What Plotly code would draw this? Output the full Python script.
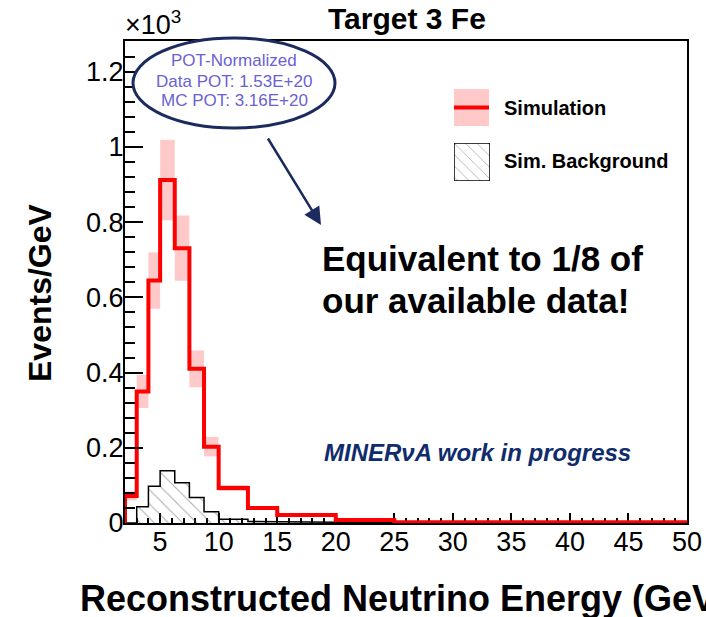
import plotly.graph_objects as go

# ---------------- data (Events/GeV, in units of 10^3) ----------------
bin_edges = [2, 3, 4, 5, 6.25, 7.5, 8.75, 10, 12.5, 15, 20, 25, 50]
simulation = [0.072, 0.35, 0.645, 0.912, 0.731, 0.41, 0.203, 0.093, 0.04, 0.021, 0.008, 0.002]
sim_error = [0.012, 0.044, 0.075, 0.107, 0.087, 0.049, 0.026, 0.008, 0.004, 0.002, 0.001, 0.0005]
sim_background = [0.0, 0.043, 0.098, 0.139, 0.107, 0.068, 0.030, 0.010, 0.004, 0.002, 0.001, 0.0005]

title_text = "Target 3 Fe"
x_title = "Reconstructed Neutrino Energy (GeV)"
y_title = "Events/GeV"
pot_lines = ["POT-Normalized", "Data POT: 1.53E+20", "MC POT: 3.16E+20"]
legend_labels = ["Simulation", "Sim. Background"]
note_lines = ["Equivalent to 1/8 of", "our available data!"]
progress_text = "MINERνA work in progress"

# ---------------- layout geometry ----------------
W, H = 706, 617
L, R, T, B = 125, 687, 41, 523
FONT = "Liberation Sans, Arial, Helvetica, sans-serif"
NAVY = "#1b2b5e"
RED = "#ff0000"
PINK = "#ffc9c9"


def px(x):
    return (x - L) / (R - L)


def py(y):
    return (B - y) / (B - T)


centers = [(a + b) / 2 for a, b in zip(bin_edges[:-1], bin_edges[1:])]
widths = [b - a for a, b in zip(bin_edges[:-1], bin_edges[1:])]


def step(edges, vals):
    xs, ys = [edges[0]], [0]
    for i, v in enumerate(vals):
        xs += [edges[i], edges[i + 1]]
        ys += [v, v]
    xs.append(edges[-1])
    ys.append(0)
    return xs, ys


fig = go.Figure()

# error band
fig.add_trace(go.Bar(
    x=centers, width=widths,
    base=[v - e for v, e in zip(simulation, sim_error)],
    y=[2 * e for e in sim_error],
    marker=dict(color=PINK, line=dict(width=0)),
    showlegend=False, hoverinfo="skip",
))

# background hatched fill
fig.add_trace(go.Bar(
    x=centers, width=widths, y=sim_background,
    marker=dict(color="rgba(0,0,0,0)", line=dict(width=0),
                pattern=dict(shape="\\", fgcolor="#555555", bgcolor="rgba(0,0,0,0)",
                             size=10, solidity=0.1)),
    showlegend=False, hoverinfo="skip",
))

bx, by = step(bin_edges, sim_background)
fig.add_trace(go.Scatter(x=bx, y=by, mode="lines",
                         line=dict(color="black", width=1.5),
                         showlegend=False, hoverinfo="skip"))

sx, sy = step(bin_edges, simulation)
fig.add_trace(go.Scatter(x=sx, y=sy, mode="lines",
                         line=dict(color=RED, width=4),
                         showlegend=False, hoverinfo="skip"))

# legend boxes on helper axes
fig.add_trace(go.Bar(x=[0], y=[1], width=[1], xaxis="x2", yaxis="y2",
                     marker=dict(color=PINK, line=dict(width=0)),
                     showlegend=False, hoverinfo="skip"))
fig.add_trace(go.Bar(x=[0], y=[1], width=[1], xaxis="x3", yaxis="y3",
                     marker=dict(color="white", line=dict(width=1.5, color="black"),
                                 pattern=dict(shape="\\", fgcolor="#555555", bgcolor="white",
                                              size=8, solidity=0.1)),
                     showlegend=False, hoverinfo="skip"))

axis_font = dict(family=FONT, size=27, color="black")

fig.update_layout(
    width=W, height=H,
    margin=dict(l=L, r=W - R, t=T, b=H - B, autoexpand=False),
    paper_bgcolor="white", plot_bgcolor="white",
    barmode="overlay",
    showlegend=False,
    xaxis=dict(range=[2, 50], tick0=0, dtick=5, ticks="inside", ticklen=10, tickwidth=2,
               tickcolor="black", showline=True, mirror=True, linecolor="black", linewidth=2,
               showgrid=False, zeroline=False, tickfont=axis_font, layer="below traces",
               minor=dict(dtick=1, ticks="inside", ticklen=5, tickwidth=1.5, tickcolor="black"),
               ticklabelstandoff=-6, automargin=False),
    yaxis=dict(range=[0, (B - T) / 376], tick0=0, dtick=0.2, ticks="inside", ticklen=18, tickwidth=2,
               tickcolor="black", showline=True, mirror=True, linecolor="black", linewidth=2,
               showgrid=False, zeroline=False, tickfont=axis_font, layer="above traces",
               minor=dict(dtick=0.04, ticks="inside", ticklen=10, tickwidth=1.5, tickcolor="black"),
               ticklabelstandoff=-6, automargin=False),
    xaxis2=dict(domain=[px(454), px(489)], range=[-0.5, 0.5], visible=False, anchor="y2", fixedrange=True),
    yaxis2=dict(domain=[py(126), py(89)], range=[0, 1], visible=False, anchor="x2", fixedrange=True),
    xaxis3=dict(domain=[px(454), px(490)], range=[-0.5, 0.5], visible=False, anchor="y3", fixedrange=True),
    yaxis3=dict(domain=[py(181), py(143)], range=[0, 1], visible=False, anchor="x3", fixedrange=True),
)

shapes = [
    dict(type="line", xref="paper", yref="paper", x0=px(454), x1=px(489), y0=py(107.5), y1=py(107.5),
         line=dict(color=RED, width=4), layer="above"),
    dict(type="circle", xref="paper", yref="paper", x0=px(133), x1=px(335), y0=py(128), y1=py(38),
         line=dict(color=NAVY, width=3), fillcolor="white", layer="above"),
]
fig.update_layout(shapes=shapes)

ann = []
ann.append(dict(text="<b>" + title_text + "</b>", x=px(407), y=py(19), xref="paper", yref="paper",
                showarrow=False, font=dict(family=FONT, size=30, color="black"),
                xanchor="center", yanchor="middle"))
ann.append(dict(text="×10<sup>3</sup>", x=px(123), y=py(42), xref="paper", yref="paper",
                showarrow=False, font=dict(family=FONT, size=27, color="black"),
                xanchor="left", yanchor="bottom"))
ann.append(dict(text="<b>" + x_title + "</b>", x=px(78), y=py(598), xref="paper", yref="paper",
                showarrow=False, font=dict(family=FONT, size=36, color="black"),
                xanchor="left", yanchor="middle"))
ann.append(dict(text="<b>" + y_title + "</b>", x=px(40), y=py(293), xref="paper", yref="paper",
                showarrow=False, textangle=-90, font=dict(family=FONT, size=32, color="black"),
                xanchor="center", yanchor="middle"))
for line, yy in zip(pot_lines, [61, 81, 100]):
    ann.append(dict(text=line, x=px(234), y=py(yy), xref="paper", yref="paper",
                    showarrow=False, font=dict(family=FONT, size=17, color="#6a62d0"),
                    xanchor="center", yanchor="middle"))
for lab, yy in zip(legend_labels, [108, 161]):
    ann.append(dict(text="<b>" + lab + "</b>", x=px(502), y=py(yy), xref="paper", yref="paper",
                    showarrow=False, font=dict(family=FONT, size=20, color="black"),
                    xanchor="left", yanchor="middle"))
for line, yy in zip(note_lines, [258, 300]):
    ann.append(dict(text="<b>" + line + "</b>", x=px(320), y=py(yy), xref="paper", yref="paper",
                    showarrow=False, font=dict(family=FONT, size=35, color="black"),
                    xanchor="left", yanchor="middle"))
ann.append(dict(text="<b><i>" + progress_text + "</i></b>", x=px(322), y=py(452), xref="paper", yref="paper",
                showarrow=False, font=dict(family=FONT, size=24, color="#0f2c6c"),
                xanchor="left", yanchor="middle"))
ann.append(dict(text="", x=px(321), y=py(225), xref="paper", yref="paper",
                showarrow=True, ax=-54, ay=-88, arrowhead=2, arrowsize=1.4, arrowwidth=2.5,
                arrowcolor=NAVY, standoff=0, startstandoff=0))
fig.update_layout(annotations=ann)

fig.write_html("out.html")
